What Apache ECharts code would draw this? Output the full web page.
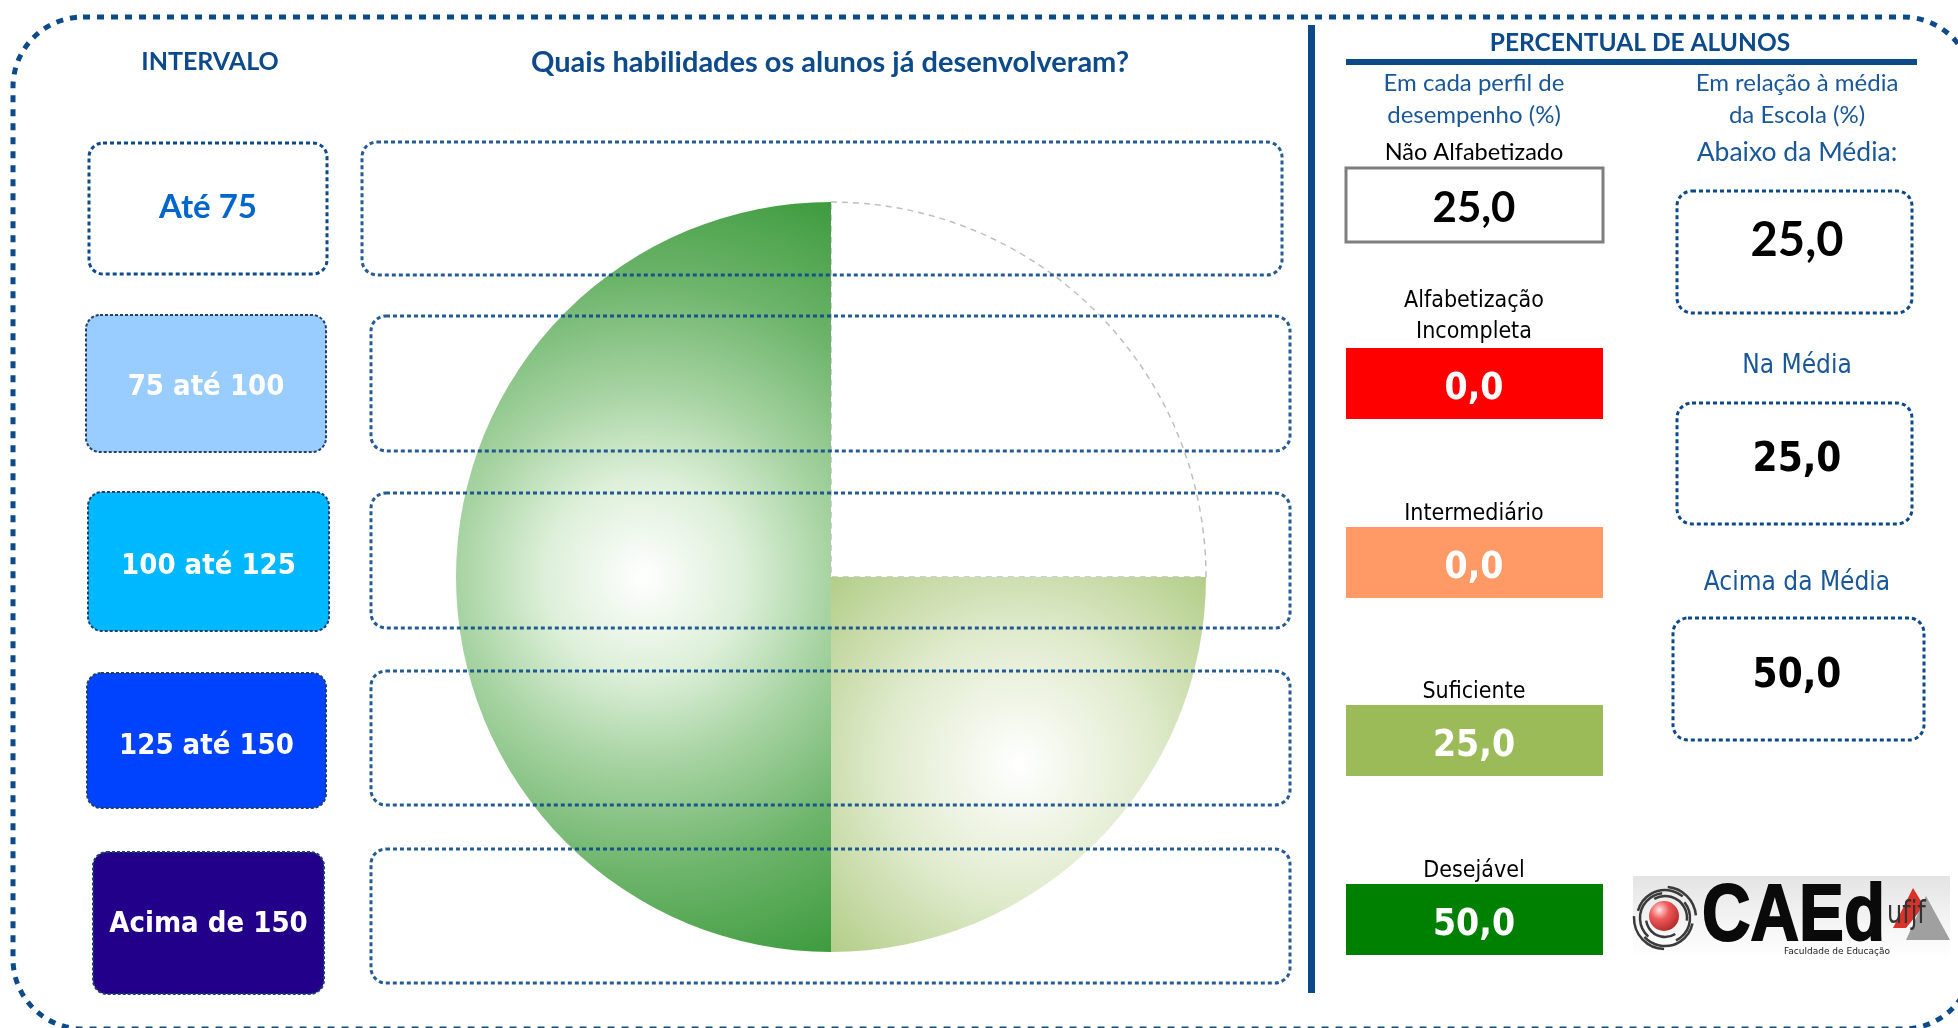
<!DOCTYPE html>
<html lang="pt-BR" style="height: 100%">
<head>
  <meta charset="utf-8">
</head>
<body style="height: 100%; margin: 0">
  <div id="container" style="width: 1958px; height: 1028px"></div>
  <script type="text/javascript" src="https://cdn.jsdelivr.net/npm/echarts@6/dist/echarts.min.js"></script>
  <script type="text/javascript">
// dados do painel
var intervalos = ['Até 75', '75 até 100', '100 até 125', '125 até 150', 'Acima de 150'];
var perfis = ['Não Alfabetizado', 'Alfabetização\nIncompleta', 'Intermediário', 'Suficiente', 'Desejável'];
var percPerfil = [25.0, 0.0, 0.0, 25.0, 50.0];
var faixasMedia = ['Abaixo da Média:', 'Na Média', 'Acima da Média'];
var percMedia = [25.0, 25.0, 50.0];

var dom = document.getElementById('container');
var myChart = echarts.init(dom, null, { renderer: 'canvas' });

var azul = '#0d4a8a';
var azulTxt = '#1a5799';
var cal = 'Lato, "Open Sans", sans-serif';
var tah = '"DejaVu Sans Condensed", "DejaVu Sans", sans-serif';

function fmt(v) {
  return v.toFixed(1).replace('.', ',');
}

function txt(t, x, y, font, fill, extra) {
  var st = {
    text: t, x: 0, y: 0, font: font, fill: fill,
    align: 'center', verticalAlign: 'middle',
    textAlign: 'center', textVerticalAlign: 'middle'
  };
  if (extra) {
    for (var k in extra) st[k] = extra[k];
  }
  return { type: 'text', z: 30, x: x, y: y, style: st, silent: true };
}

function box(x, y, w, h, r, style, z) {
  return { type: 'rect', z: z || 5, silent: true, shape: { x: x, y: y, width: w, height: h, r: r }, style: style };
}

var pontilhado = { fill: null, stroke: azul, lineWidth: 3, lineDash: [4, 3] };

var els = [];

// moldura externa
els.push(box(13, 17, 1960, 1012, 70, { fill: null, stroke: azul, lineWidth: 5, lineDash: [7, 7] }, 1));

// titulos
els.push(txt('INTERVALO', 210, 62, 'bold 25px ' + cal, azul));
els.push(txt('Quais habilidades os alunos já desenvolveram?', 830, 63, 'bold 29px ' + cal, azul));

// caixas de intervalo
var intBox = [
  [89, 143, 238, 131, null],
  [86, 315, 240, 137, '#99ccff'],
  [88, 492, 241, 139, '#00b8ff'],
  [87, 673, 239, 135, '#0043ff'],
  [93, 852, 231, 142, '#230089']
];
var intLabelY = [207, 387, 566, 746, 924];
intervalos.forEach(function (lab, i) {
  var b = intBox[i];
  if (b[4]) {
    els.push(box(b[0], b[1], b[2], b[3], 14, { fill: b[4], stroke: '#1f3f6f', lineWidth: 2, lineDash: [3, 2] }));
    els.push(txt(lab, b[0] + b[2] / 2, intLabelY[i], 'bold 29px ' + tah, '#ffffff'));
  } else {
    els.push(box(b[0], b[1], b[2], b[3], 14, pontilhado));
    els.push(txt(lab, b[0] + b[2] / 2, intLabelY[i], 'bold 33px ' + cal, '#0066cc'));
  }
});

// linhas de habilidades (por cima da pizza)
var rowBox = [[362, 142, 920, 133], [371, 316, 919, 135], [371, 493, 919, 135], [371, 671, 919, 134], [371, 849, 919, 134]];
rowBox.forEach(function (b) {
  els.push(box(b[0], b[1], b[2], b[3], 15, { fill: null, stroke: azul, lineWidth: 3, lineDash: [4, 3], opacity: 0.9 }, 20));
});

// divisoria
els.push(box(1308, 25, 7, 968, 0, { fill: azul }));

// painel da direita
els.push(txt('PERCENTUAL DE ALUNOS', 1640, 43, 'bold 24.5px ' + cal, azul));
els.push(box(1346, 59, 571, 6, 0, { fill: azul }));
els.push(txt('Em cada perfil de\ndesempenho (%)', 1474, 99, '24px ' + cal, azulTxt, { lineHeight: 32 }));
els.push(txt('Em relação à média\nda Escola (%)', 1797, 99, '24px ' + cal, azulTxt, { lineHeight: 32 }));

var perfilCor = [
  ['#ffffff', '#000000'],
  ['#ff0000', '#ffffff'],
  ['#ff9966', '#ffffff'],
  ['#9bbb59', '#ffffff'],
  ['#008000', '#ffffff']
];
var perfilBoxY = [168, 348, 527, 705, 884];
var perfilLabY = [152, 317, 514, 692, 871];
perfis.forEach(function (p, i) {
  var y = perfilBoxY[i];
  var h = i === 0 ? 74 : 71;
  if (i === 0) {
    els.push(box(1346, y, 257, h, 0, { fill: '#ffffff', stroke: '#7f7f7f', lineWidth: 3 }));
    els.push(txt(p, 1474, perfilLabY[i], '23.5px ' + cal, '#000000'));
    els.push(txt(fmt(percPerfil[i]), 1474, y + h / 2 + 3, 'bold 42px ' + cal, perfilCor[i][1]));
  } else {
    els.push(box(1346, y, 257, h, 0, { fill: perfilCor[i][0] }));
    els.push(txt(p, 1474, perfilLabY[i], '23px ' + tah, '#000000', { lineHeight: 31 }));
    els.push(txt(fmt(percPerfil[i]), 1474, y + h / 2 + 6, 'bold 37px ' + tah, perfilCor[i][1]));
  }
});

var mediaBox = [[1677, 191, 235, 122], [1677, 403, 235, 121], [1673, 618, 251, 122]];
var mediaLabY = [152, 366, 583];
var mediaValY = [241, 461, 677];
faixasMedia.forEach(function (f, i) {
  var b = mediaBox[i];
  els.push(box(b[0], b[1], b[2], b[3], 15, pontilhado));
  if (i === 0) {
    els.push(txt(f, 1797, mediaLabY[i], '26.5px ' + cal, azulTxt));
    els.push(txt(fmt(percMedia[i]), 1797, mediaValY[i], 'bold 47px ' + cal, '#000000'));
  } else {
    els.push(txt(f, 1797, mediaLabY[i], '26px ' + tah, azulTxt));
    els.push(txt(fmt(percMedia[i]), 1797, mediaValY[i], 'bold 40px ' + tah, '#000000'));
  }
});

// logotipo CAEd
els.push({
  type: 'rect', z: 5, silent: true,
  shape: { x: 1633, y: 876, width: 317, height: 84 },
  style: { fill: new echarts.graphic.LinearGradient(0, 0, 0, 1, [
    { offset: 0, color: '#e4e4e4' }, { offset: 0.6, color: '#f6f6f6' }, { offset: 1, color: '#ffffff' }
  ]) }
});
[[28, 0.2, 2.4], [25, 2.3, 4.6], [22, 4.2, 6.4], [28, 3.4, 5.4], [19, 1.0, 3.0], [25, 5.6, 7.4], [31, 1.6, 3.2], [31, 4.8, 6.2]].forEach(function (a) {
  els.push({
    type: 'arc', z: 6, silent: true,
    shape: { cx: 1665, cy: 918, r: a[0], startAngle: a[1], endAngle: a[2] },
    style: { fill: null, stroke: '#3a3a3a', lineWidth: 2.5 }
  });
});
els.push({
  type: 'circle', z: 7, silent: true,
  shape: { cx: 1664, cy: 916, r: 15 },
  style: { fill: new echarts.graphic.RadialGradient(0.35, 0.3, 0.9, [
    { offset: 0, color: '#ffe4e4' }, { offset: 0.35, color: '#ee5a5a' }, { offset: 1, color: '#a01818' }
  ]) }
});
els.push({
  type: 'text', z: 8, silent: true, x: 1702, y: 918, scaleX: 0.84,
  style: { text: 'CAEd', x: 0, y: 0, font: '900 80px "Liberation Sans", Arial, sans-serif', fill: '#0a0a0a',
    stroke: '#0a0a0a', lineWidth: 2,
    align: 'left', verticalAlign: 'middle', textAlign: 'left', textVerticalAlign: 'middle' }
});
els.push({
  type: 'polygon', z: 7, silent: true,
  shape: { points: [[1893, 928], [1913, 888], [1924, 906], [1906, 928]] },
  style: { fill: '#d9322a' }
});
els.push({
  type: 'polygon', z: 7, silent: true,
  shape: { points: [[1906, 940], [1926, 896], [1950, 940]] },
  style: { fill: '#a0a0a0' }
});
els.push({
  type: 'text', z: 9, silent: true, x: 1887, y: 915, scaleX: 0.75,
  style: { text: 'ufjf', x: 0, y: 0, font: '32px "DejaVu Sans", sans-serif', fill: '#333333',
    align: 'left', verticalAlign: 'middle', textAlign: 'left', textVerticalAlign: 'middle' }
});
els.push(txt('Faculdade de Educação', 1837, 952, '9px "DejaVu Sans", sans-serif', '#222222'));

// estilos das fatias
var fatiaEstilo = [
  { color: '#ffffff', borderColor: '#bfbfbf', borderWidth: 1.5, borderType: [6, 5] },
  { color: '#ff0000', borderWidth: 0 },
  { color: '#ff9966', borderWidth: 0 },
  {
    color: { type: 'radial', x: 0.5, y: 0.5, r: 0.71, colorStops: [
      { offset: 0, color: '#ffffff' }, { offset: 0.5, color: '#e0ebcd' }, { offset: 1, color: '#b2cd87' }
    ] },
    borderWidth: 0
  },
  {
    color: { type: 'radial', x: 0.5, y: 0.5, r: 1.12, colorStops: [
      { offset: 0, color: '#ffffff' }, { offset: 0.24, color: '#dcefd8' }, { offset: 0.44, color: '#a8d4a3' },
      { offset: 0.71, color: '#6cb46a' }, { offset: 1, color: '#3d9b3d' }
    ] },
    borderWidth: 0
  }
];

var option = {
  backgroundColor: '#ffffff',
  animation: false,
  graphic: { elements: els },
  series: [
    {
      name: 'Percentual por perfil',
      type: 'pie',
      center: [831, 577],
      radius: [0, 375],
      startAngle: 90,
      clockwise: true,
      silent: true,
      avoidLabelOverlap: false,
      label: { show: false },
      labelLine: { show: false },
      emphasis: { disabled: true },
      data: perfis.map(function (p, i) {
        return { name: p, value: percPerfil[i], itemStyle: fatiaEstilo[i] };
      })
    }
  ]
};

if (option && typeof option === 'object') {
  myChart.setOption(option);
}

window.addEventListener('resize', myChart.resize);
  </script>
</body>
</html>
